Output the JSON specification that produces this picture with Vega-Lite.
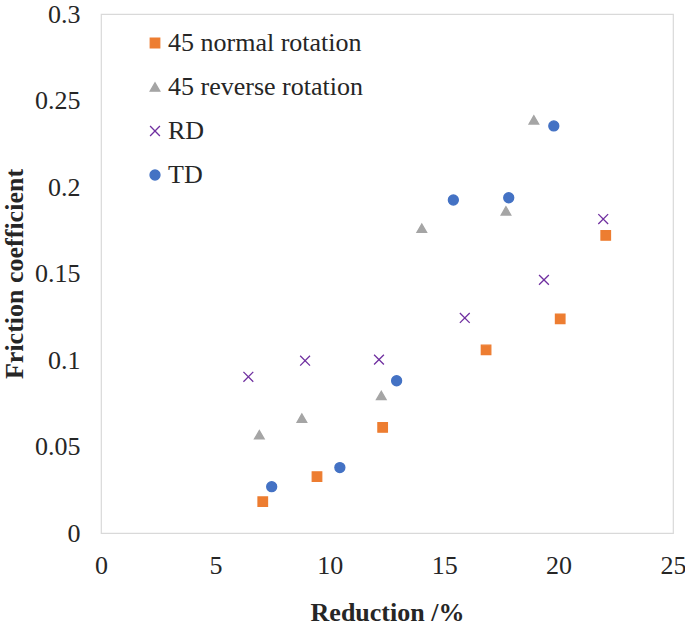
{
  "$schema": "https://vega.github.io/schema/vega-lite/v6.json",
  "width": 572,
  "height": 519,
  "autosize": {"type": "none"},
  "padding": {"left": 101, "top": 14, "right": 12, "bottom": 98},
  "background": "white",
  "config": {
    "view": {"stroke": "#D9D9D9", "strokeWidth": 1.2},
    "axis": {
      "domain": false, "ticks": false, "grid": false, "labelFlush": false,
      "labelFont": "Liberation Serif", "labelFontSize": 26, "labelColor": "#262626",
      "titleFont": "Liberation Serif", "titleFontSize": 26, "titleFontWeight": "bold", "titleColor": "#262626"
    },
    "legend": {
      "labelFont": "Liberation Serif", "labelFontSize": 26, "labelColor": "#262626", "labelLimit": 0
    }
  },
  "data": {
    "values": [
      {"series": "45 normal rotation", "reduction": 7.07, "friction": 0.0181},
      {"series": "45 normal rotation", "reduction": 9.44, "friction": 0.0326},
      {"series": "45 normal rotation", "reduction": 12.31, "friction": 0.061},
      {"series": "45 normal rotation", "reduction": 16.83, "friction": 0.1058},
      {"series": "45 normal rotation", "reduction": 20.07, "friction": 0.1238},
      {"series": "45 normal rotation", "reduction": 22.06, "friction": 0.172},
      {"series": "45 reverse rotation", "reduction": 6.92, "friction": 0.0568},
      {"series": "45 reverse rotation", "reduction": 8.78, "friction": 0.0664},
      {"series": "45 reverse rotation", "reduction": 12.25, "friction": 0.0795},
      {"series": "45 reverse rotation", "reduction": 14.02, "friction": 0.1762},
      {"series": "45 reverse rotation", "reduction": 17.7, "friction": 0.1862},
      {"series": "45 reverse rotation", "reduction": 18.92, "friction": 0.2388},
      {"series": "RD", "reduction": 6.44, "friction": 0.0903},
      {"series": "RD", "reduction": 8.92, "friction": 0.0996},
      {"series": "RD", "reduction": 12.15, "friction": 0.1002},
      {"series": "RD", "reduction": 15.9, "friction": 0.1243},
      {"series": "RD", "reduction": 19.36, "friction": 0.1463},
      {"series": "RD", "reduction": 21.95, "friction": 0.1815},
      {"series": "TD", "reduction": 7.46, "friction": 0.0268},
      {"series": "TD", "reduction": 10.44, "friction": 0.0378},
      {"series": "TD", "reduction": 12.92, "friction": 0.088},
      {"series": "TD", "reduction": 15.4, "friction": 0.1925},
      {"series": "TD", "reduction": 17.82, "friction": 0.1938},
      {"series": "TD", "reduction": 19.79, "friction": 0.2353}
    ]
  },
  "mark": {"type": "point", "opacity": 1, "strokeWidth": 1.3},
  "encoding": {
    "x": {
      "field": "reduction", "type": "quantitative",
      "scale": {"domain": [0, 25], "nice": false, "zero": false},
      "axis": {"values": [0, 5, 10, 15, 20, 25], "format": "d", "title": "Reduction /%", "labelPadding": 19, "titlePadding": 21}
    },
    "y": {
      "field": "friction", "type": "quantitative",
      "scale": {"domain": [0, 0.3], "nice": false, "zero": false},
      "axis": {"values": [0, 0.05, 0.1, 0.15, 0.2, 0.25, 0.3], "format": "~g", "title": "Friction coefficient", "labelPadding": 21, "titlePadding": 7}
    },
    "color": {
      "field": "series", "type": "nominal",
      "scale": {"domain": ["45 normal rotation", "45 reverse rotation", "RD", "TD"], "range": ["#ED7D31", "#A5A5A5", "#7030A0", "#4472C4"]},
      "legend": {"title": null, "orient": "none", "legendX": 41, "legendY": 16, "symbolSize": 60, "symbolStrokeWidth": 1.3, "labelOffset": 0, "rowPadding": 18, "padding": 0, "symbolOffset": 0}
    },
    "fill": {
      "field": "series", "type": "nominal",
      "scale": {"domain": ["45 normal rotation", "45 reverse rotation", "RD", "TD"], "range": ["#ED7D31", "#A5A5A5", "transparent", "#4472C4"]},
      "legend": {"title": null, "orient": "none", "legendX": 41, "legendY": 16, "symbolSize": 60, "symbolStrokeWidth": 1.3, "labelOffset": 0, "rowPadding": 18, "padding": 0, "symbolOffset": 0}
    },
    "shape": {
      "field": "series", "type": "nominal",
      "scale": {"domain": ["45 normal rotation", "45 reverse rotation", "RD", "TD"], "range": ["square", "triangle-up", "M-1,-1L1,1M1,-1L-1,1", "circle"]},
      "legend": {"title": null, "orient": "none", "legendX": 41, "legendY": 16, "symbolSize": 60, "symbolStrokeWidth": 1.3, "labelOffset": 0, "rowPadding": 18, "padding": 0, "symbolOffset": 0}
    },
    "size": {
      "field": "series", "type": "nominal",
      "scale": {"domain": ["45 normal rotation", "45 reverse rotation", "RD", "TD"], "range": [90, 100, 100, 55]},
      "legend": null
    }
  }
}
